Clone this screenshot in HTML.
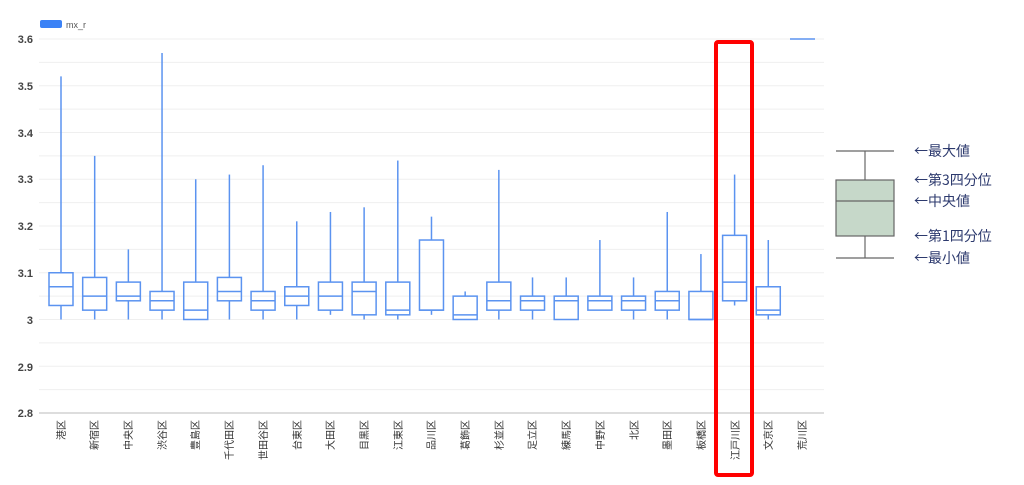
<!DOCTYPE html>
<html><head><meta charset="utf-8"><style>
body{margin:0;background:#fff;width:1024px;height:480px;overflow:hidden}
svg text{font-family:"Liberation Sans","Noto Sans CJK JP",sans-serif}
svg text.jp{font-family:"Noto Sans CJK JP",sans-serif}
</style></head><body>
<svg id="s" width="1024" height="480" xmlns="http://www.w3.org/2000/svg">
<rect x="40" y="20" width="22" height="8" rx="2" fill="#3b82f6"/>
<text x="66" y="28" font-size="9" fill="#555">mx_r</text>
<g font-size="11" font-weight="bold" fill="#444" text-anchor="end">
<text x="33" y="43">3.6</text><text x="33" y="90">3.5</text><text x="33" y="137">3.4</text>
<text x="33" y="183">3.3</text><text x="33" y="230">3.2</text><text x="33" y="277">3.1</text>
<text x="33" y="324">3</text><text x="33" y="371">2.9</text><text x="33" y="417">2.8</text>
</g>
<g id="grid"></g>
<g id="boxes" fill="none" stroke="#5b93f0" stroke-width="1.5"></g>
<g font-size="10" fill="#333" id="labs">
<text transform="translate(65,420) rotate(-90)" text-anchor="end">港区</text>
<text transform="translate(98,420) rotate(-90)" text-anchor="end">新宿区</text>
<text transform="translate(132,420) rotate(-90)" text-anchor="end">中央区</text>
<text transform="translate(166,420) rotate(-90)" text-anchor="end">渋谷区</text>
<text transform="translate(199,420) rotate(-90)" text-anchor="end">豊島区</text>
<text transform="translate(233,420) rotate(-90)" text-anchor="end">千代田区</text>
<text transform="translate(267,420) rotate(-90)" text-anchor="end">世田谷区</text>
<text transform="translate(301,420) rotate(-90)" text-anchor="end">台東区</text>
<text transform="translate(334,420) rotate(-90)" text-anchor="end">大田区</text>
<text transform="translate(368,420) rotate(-90)" text-anchor="end">目黒区</text>
<text transform="translate(402,420) rotate(-90)" text-anchor="end">江東区</text>
<text transform="translate(435,420) rotate(-90)" text-anchor="end">品川区</text>
<text transform="translate(469,420) rotate(-90)" text-anchor="end">葛飾区</text>
<text transform="translate(503,420) rotate(-90)" text-anchor="end">杉並区</text>
<text transform="translate(536,420) rotate(-90)" text-anchor="end">足立区</text>
<text transform="translate(570,420) rotate(-90)" text-anchor="end">練馬区</text>
<text transform="translate(604,420) rotate(-90)" text-anchor="end">中野区</text>
<text transform="translate(638,420) rotate(-90)" text-anchor="end">北区</text>
<text transform="translate(671,420) rotate(-90)" text-anchor="end">墨田区</text>
<text transform="translate(705,420) rotate(-90)" text-anchor="end">板橋区</text>
<text transform="translate(739,420) rotate(-90)" text-anchor="end">江戸川区</text>
<text transform="translate(772,420) rotate(-90)" text-anchor="end">文京区</text>
<text transform="translate(806,420) rotate(-90)" text-anchor="end">荒川区</text>
</g>
<rect x="716" y="42" width="36" height="433" fill="none" stroke="#f00" stroke-width="4" rx="2"/>
<g stroke="#666" stroke-width="1.2">
<line x1="836" y1="151" x2="894" y2="151"/><line x1="836" y1="258" x2="894" y2="258"/>
<line x1="865" y1="151" x2="865" y2="180"/><line x1="865" y1="236" x2="865" y2="258"/>
<rect x="836" y="180" width="58" height="56" fill="#c6d8c9"/>
<line x1="836" y1="201" x2="894" y2="201"/>
</g>
<g font-size="14" fill="#2d3a6e">
<text class="jp" x="914" y="156">←最大値</text><text class="jp" x="914" y="185">←第3四分位</text>
<text class="jp" x="914" y="206">←中央値</text><text class="jp" x="914" y="241">←第1四分位</text>
<text class="jp" x="914" y="263">←最小値</text>
</g>
</svg>
<script>
var Y=function(v){return 39+(3.6-v)*467.5};
var g='';for(var i=0;i<=16;i++){var y=39+i*23.375;g+='<line x1="39" x2="824" y1="'+y+'" y2="'+y+'" stroke="'+(i==16?'#ddd':'#efefef')+'" stroke-width="'+(i==16?2:1)+'"/>';}
document.getElementById('grid').innerHTML=g;
var d=[[3,3.03,3.07,3.1,3.52],[3,3.02,3.05,3.09,3.35],[3,3.04,3.05,3.08,3.15],[3,3.02,3.04,3.06,3.57],[3,3,3.02,3.08,3.3],[3,3.04,3.06,3.09,3.31],[3,3.02,3.04,3.06,3.33],[3,3.03,3.05,3.07,3.21],[3.01,3.02,3.05,3.08,3.23],[3,3.01,3.06,3.08,3.24],[3,3.01,3.02,3.08,3.34],[3.01,3.02,3.02,3.17,3.22],[3,3,3.01,3.05,3.06],[3,3.02,3.04,3.08,3.32],[3,3.02,3.04,3.05,3.09],[3,3,3.04,3.05,3.09],[3.02,3.02,3.04,3.05,3.17],[3,3.02,3.04,3.05,3.09],[3,3.02,3.04,3.06,3.23],[3,3,3,3.06,3.14],[3.03,3.04,3.08,3.18,3.31],[3,3.01,3.02,3.07,3.17]];
var b='';d.forEach(function(a,i){var x=61+i*33.68;
b+='<line x1="'+x+'" x2="'+x+'" y1="'+Y(a[4])+'" y2="'+Y(a[3])+'"/><line x1="'+x+'" x2="'+x+'" y1="'+Y(a[1])+'" y2="'+Y(a[0])+'"/>';
b+='<rect x="'+(x-12)+'" y="'+Y(a[3])+'" width="24" height="'+Math.max(Y(a[1])-Y(a[3]),0.5)+'"/>';
b+='<line x1="'+(x-12)+'" x2="'+(x+12)+'" y1="'+Y(a[2])+'" y2="'+Y(a[2])+'"/>';});
b+='<line x1="790" x2="815" y1="39" y2="39"/>';
document.getElementById('boxes').innerHTML=b;
</script>
</body></html>
